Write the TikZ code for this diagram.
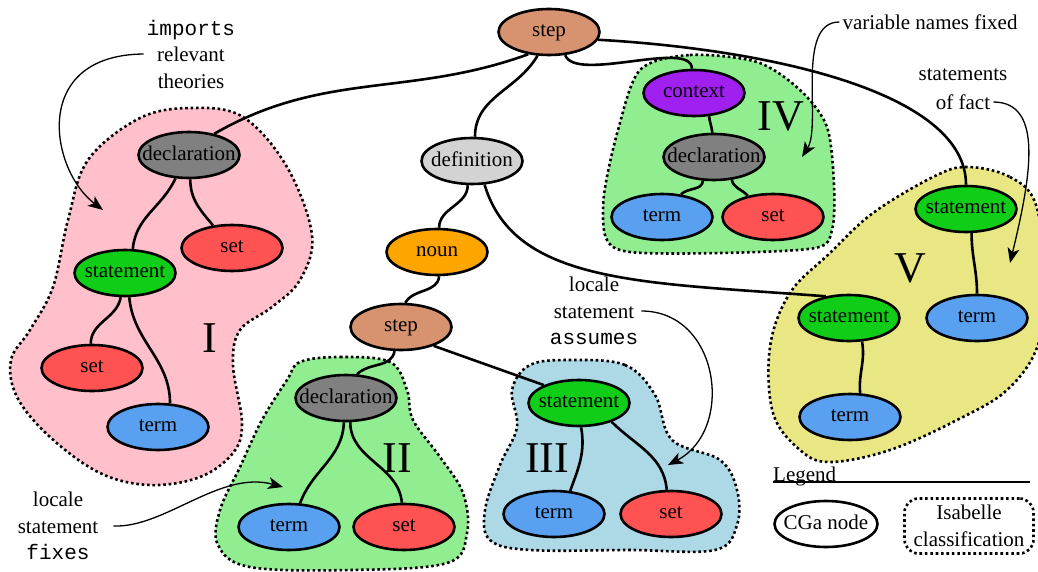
\documentclass[tikz,border=0pt]{standalone}
\usepackage{fontspec}
\setmainfont{Liberation Serif}
\setmonofont{Liberation Mono}
\usetikzlibrary{arrows.meta,shapes.geometric}

\definecolor{stepcol}{RGB}{215,146,112}
\definecolor{declcol}{RGB}{128,128,128}
\definecolor{defcol}{RGB}{211,211,211}
\definecolor{nouncol}{RGB}{255,165,0}
\definecolor{ctxcol}{RGB}{160,32,240}
\definecolor{stmtcol}{RGB}{16,206,24}
\definecolor{setcol}{RGB}{255,82,82}
\definecolor{termcol}{RGB}{90,160,240}
\definecolor{pinkblob}{RGB}{255,192,203}
\definecolor{greenblob}{RGB}{144,238,144}
\definecolor{blueblob}{RGB}{173,216,230}
\definecolor{khakiblob}{RGB}{233,231,131}

% label of fixed-size ellipse: zero width, uniform height and depth
\newcommand\fixw[1]{\makebox[0pt]{\vphantom{Ayg}#1}}

\begin{document}
\begin{tikzpicture}[x=1pt,y=1pt,
  cg/.style={ellipse, draw, line width=2.6pt, minimum width=101pt,
    minimum height=46pt, inner sep=0pt, font=\fontsize{21}{24}\selectfont},
  edge/.style={line width=2.6pt},
  blob/.style={line width=2.6pt, dash pattern=on 2.6pt off 2.8pt},
  note/.style={font=\fontsize{21}{26.5}\selectfont, align=center, inner sep=3pt},
  pointer/.style={line width=1.3pt, -{Stealth[length=15pt,width=12pt,inset=4pt]}},
  roman/.style={font=\fontsize{44}{44}\selectfont, inner sep=0pt}]
\useasboundingbox (0,0) rectangle (1038,-572);

% classification regions
\fill[pinkblob] plot[smooth cycle, tension=0.6] coordinates {(192,-108) (243,-117) (287,-167) (312,-235) (300,-280) (272,-307) (240,-330) (233,-365) (242,-423) (233,-453) (200,-477) (150,-485) (100,-473) (50,-437) (17,-397) (11,-360) (30,-330) (53,-287) (68,-220) (88,-160) (140,-118)};
\draw[blob] plot[smooth cycle, tension=0.6] coordinates {(192,-108) (243,-117) (287,-167) (312,-235) (300,-280) (272,-307) (240,-330) (233,-365) (242,-423) (233,-453) (200,-477) (150,-485) (100,-473) (50,-437) (17,-397) (11,-360) (30,-330) (53,-287) (68,-220) (88,-160) (140,-118)};

\fill[greenblob] plot[smooth cycle, tension=0.5] coordinates {(640,-70) (690,-55) (757,-62) (800,-90) (827,-127) (834,-185) (832,-230) (815,-248) (720,-253) (630,-252) (606,-238) (604,-195) (618,-130)};
\draw[blob] plot[smooth cycle, tension=0.5] coordinates {(640,-70) (690,-55) (757,-62) (800,-90) (827,-127) (834,-185) (832,-230) (815,-248) (720,-253) (630,-252) (606,-238) (604,-195) (618,-130)};

\fill[khakiblob] plot[smooth cycle, tension=0.6] coordinates {(967,-167) (1010,-177) (1036,-205) (1045,-280) (1038,-345) (1007,-390) (957,-420) (890,-450) (830,-462) (800,-450) (773,-413) (770,-347) (790,-293) (830,-253) (873,-213) (933,-177)};
\draw[blob] plot[smooth cycle, tension=0.6] coordinates {(967,-167) (1010,-177) (1036,-205) (1045,-280) (1038,-345) (1007,-390) (957,-420) (890,-450) (830,-462) (800,-450) (773,-413) (770,-347) (790,-293) (830,-253) (873,-213) (933,-177)};

\fill[greenblob] plot[smooth cycle, tension=0.6] coordinates {(300,-362) (340,-357) (390,-362) (407,-390) (413,-420) (440,-457) (463,-493) (467,-533) (447,-563) (350,-570) (250,-567) (218,-545) (220,-510) (240,-467) (262,-420) (287,-380)};
\draw[blob] plot[smooth cycle, tension=0.6] coordinates {(300,-362) (340,-357) (390,-362) (407,-390) (413,-420) (440,-457) (463,-493) (467,-533) (447,-563) (350,-570) (250,-567) (218,-545) (220,-510) (240,-467) (262,-420) (287,-380)};

\fill[blueblob] plot[smooth cycle, tension=0.6] coordinates {(570,-360) (625,-365) (655,-395) (672,-440) (720,-460) (737,-490) (737,-525) (715,-550) (630,-550) (530,-550) (490,-540) (485,-510) (500,-465) (517,-427) (512,-390) (530,-365)};
\draw[blob] plot[smooth cycle, tension=0.6] coordinates {(570,-360) (625,-365) (655,-395) (672,-440) (720,-460) (737,-490) (737,-525) (715,-550) (630,-550) (530,-550) (490,-540) (485,-510) (500,-465) (517,-427) (512,-390) (530,-365)};

% region numerals
\node[roman] (numI) at (210,-338) {I};
\node[roman] (numII) at (397,-458) {II};
\node[roman] (numIII) at (547,-458) {III};
\node[roman] (numIV) at (781,-116) {IV};
\node[roman] (numV) at (910,-268) {V};

% CGa nodes
\node[cg, fill=stepcol] (stepT) at (549,-32) {\fixw{step}};
\node[cg, fill=defcol] (def) at (472,-161) {\fixw{definition}};
\node[cg, fill=nouncol] (noun) at (437,-252) {\fixw{noun}};
\node[cg, fill=stepcol] (stepM) at (401,-327) {\fixw{step}};

\node[cg, fill=declcol] (declI) at (189,-155) {\fixw{declaration}};
\node[cg, fill=setcol] (setIa) at (232,-248) {\fixw{set}};
\node[cg, fill=stmtcol] (stmtI) at (125,-273) {\fixw{statement}};
\node[cg, fill=setcol] (setIb) at (92,-368) {\fixw{set}};
\node[cg, fill=termcol] (termI) at (158,-427) {\fixw{term}};

\node[cg, fill=ctxcol] (context) at (694,-93) {\fixw{context}};
\node[cg, fill=declcol] (declIV) at (714,-157) {\fixw{declaration}};
\node[cg, fill=termcol] (termIV) at (662,-217) {\fixw{term}};
\node[cg, fill=setcol] (setIV) at (773,-217) {\fixw{set}};

\node[cg, fill=stmtcol] (stmtVt) at (966,-209) {\fixw{statement}};
\node[cg, fill=termcol] (termVr) at (977,-318) {\fixw{term}};
\node[cg, fill=stmtcol] (stmtVl) at (849,-318) {\fixw{statement}};
\node[cg, fill=termcol] (termVb) at (850,-417) {\fixw{term}};

\node[cg, fill=declcol] (declII) at (346,-398) {\fixw{declaration}};
\node[cg, fill=termcol] (termII) at (289,-527) {\fixw{term}};
\node[cg, fill=setcol] (setII) at (404,-527) {\fixw{set}};

\node[cg, fill=stmtcol] (stmtIII) at (579,-403) {\fixw{statement}};
\node[cg, fill=termcol] (termIII) at (554,-514) {\fixw{term}};
\node[cg, fill=setcol] (setIII) at (671,-514) {\fixw{set}};

% connectors
\draw[edge] (stepT.227) to[out=200,in=30] (declI.40);
\draw[edge] (stepT.244) to[out=240,in=90] (def.83);
\draw[edge] (stepT.-55) to[out=-70,in=90,looseness=0.6] (context.95);
\draw[edge] (stepT.-9) .. controls +(162,-9) and +(0,95) .. (stmtVt.north);
\draw[edge] (def.-100) to[out=-90,in=90] (noun.85);
\draw[edge] (def.-62) .. controls +(30,-100) and +(-183,14) .. (stmtVl.137);
\draw[edge] (noun.-85) to[out=-95,in=60] (stepM.80);
\draw[edge] (stepM.-105) to[out=-100,in=45] (declII.65);
\draw[edge] (stepM.-30) -- (stmtIII.153);

\draw[edge] (declI.-120) to[out=-115,in=85] (stmtI.72);
\draw[edge] (declI.-87) to[out=-90,in=130] (setIa.130);
\draw[edge] (stmtI.-100) to[out=-100,in=90] (setIb.93);
\draw[edge] (stmtI.-80) to[out=-85,in=90] (termI.63);

\draw[edge] (context.-57) to[out=-85,in=95] (declIV.94);
\draw[edge] (declIV.-115) to[out=-95,in=45] (termIV.50);
\draw[edge] (declIV.-52) to[out=-80,in=130] (setIV.140);

\draw[edge] (stmtVt.-77) to[out=-90,in=90] (termVr.north);
\draw[edge] (stmtVl.-61) to[out=-80,in=95] (termVb.67);

\draw[edge] (declII.-95) to[out=-92,in=70] (termII.65);
\draw[edge] (declII.-80) to[out=-90,in=95] (setII.95);

\draw[edge] (stmtIII.-85) to[out=-80,in=70] (termIII.55);
\draw[edge] (stmtIII.-30) to[out=-45,in=95] (setIII.100);

% annotations
\node[note] (importsTxt) at (191,-54) {{\ttfamily imports}\\relevant\\theories};
\coordinate (importsTip) at (103,-210);
\draw[pointer] (importsTxt.west) .. controls (30,-55) and (50,-170) .. (importsTip);

\node[note] (varTxt) at (930,-22) {variable names fixed};
\coordinate (varTip) at (802,-157);
\draw[pointer] (varTxt.west) .. controls (795,-22) and (822,-125) .. (varTip);

\node[note] (factA) at (963,-75) {statements};
\node[note] (factB) at (963,-102) {of fact};
\coordinate (factTip) at (1010,-263);
\draw[pointer] (factB.east) .. controls (1045,-102) and (1030,-180) .. (factTip);

\node[note] (assTxt) at (594,-311) {locale\\statement\\{\ttfamily assumes}};
\coordinate (assTip) at (668,-465);
\draw[pointer] (assTxt.east) .. controls (720,-311) and (735,-430) .. (assTip);

\node[note] (fixTxt) at (58,-526) {locale\\statement\\{\ttfamily fixes}};
\coordinate (fixTip) at (283,-487);
\draw[pointer] ([xshift=12pt]fixTxt.east) .. controls (165,-528) and (220,-470) .. (fixTip);

% legend
\node[anchor=base west, inner sep=0pt, font=\fontsize{21}{24}\selectfont] (legendTitle) at (773,-481) {Legend};
\coordinate (legendEnd) at (1030,-482);
\draw[line width=1.3pt] (legendTitle.base west |- legendEnd) -- (legendEnd);
\node[cg, fill=white, minimum width=103pt] (legendNode) at (826,-524) {\fixw{CGa node}};
\node[blob, draw, rectangle, rounded corners=14pt, align=center,
  minimum width=129pt, minimum height=55pt, inner sep=2pt,
  font=\fontsize{21}{27}\selectfont] (legendBlob) at (969,-526) {Isabelle\\classification};
\end{tikzpicture}
\end{document}
